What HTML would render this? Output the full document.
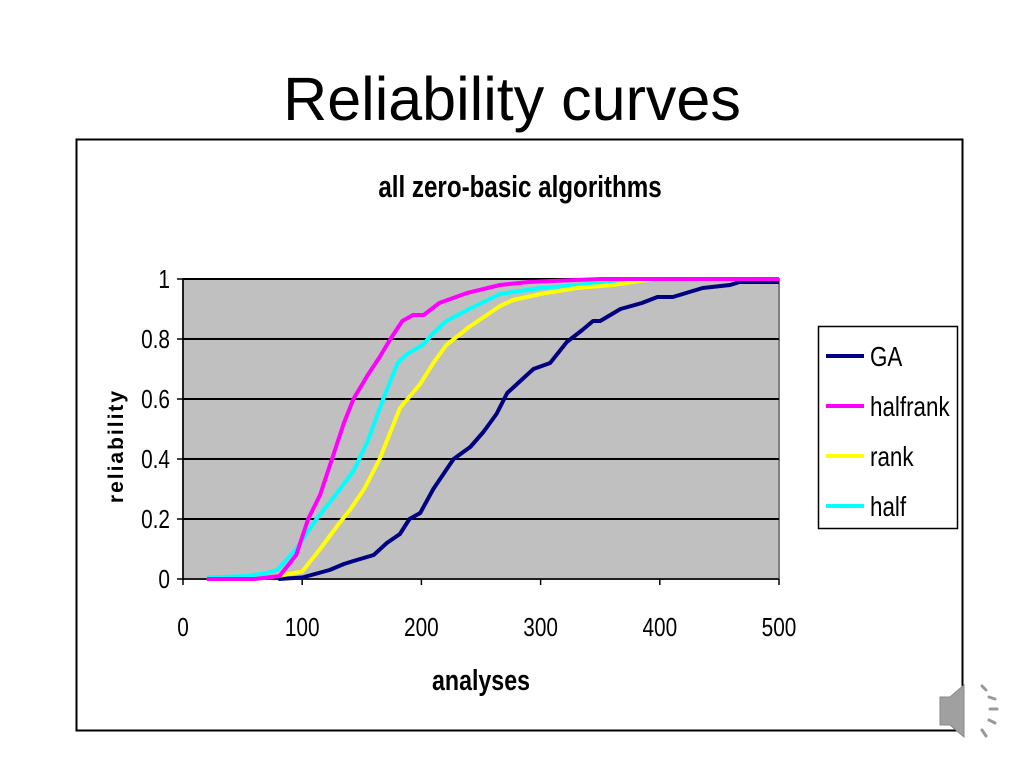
<!DOCTYPE html>
<html><head><meta charset="utf-8"><style>
body{margin:0;background:#fff;width:1024px;height:768px;overflow:hidden;font-family:"Liberation Sans",sans-serif}
</style></head><body>
<svg width="1024" height="768" xmlns="http://www.w3.org/2000/svg">
<text x="512" y="120" text-anchor="middle" font-size="61" font-family="Liberation Sans, sans-serif">Reliability curves</text>
<rect x="76.5" y="139.5" width="886" height="591" fill="#fff" stroke="#000" stroke-width="2"/>
<text transform="translate(520,197) scale(0.78,1)" text-anchor="middle" font-size="31" font-weight="bold">all zero-basic algorithms</text>
<rect x="183" y="279" width="596" height="300" fill="#c0c0c0" stroke="#808080" stroke-width="2"/>
<g id="grid"></g><g id="axes"></g><g id="series"></g>
<text transform="translate(123,446) rotate(-90)" text-anchor="middle" font-size="21" font-weight="bold" letter-spacing="2">reliability</text>
<text transform="translate(481,690) scale(0.8,1)" text-anchor="middle" font-size="29" font-weight="bold">analyses</text>
<g>
<rect x="818.5" y="326.5" width="139" height="202" fill="#fff" stroke="#000" stroke-width="1.5"/>
<g id="legend-entries"></g>
</g>
<g>
<path d="M940 697 h10 l14 -12 v52 l-14 -12 h-10 z" fill="#a0a0a0" stroke="#888"/>
<g stroke="#999" stroke-width="3" stroke-linecap="round">
<line x1="982" y1="686" x2="986" y2="690"/><line x1="989" y1="697" x2="995" y2="699"/><line x1="990" y1="709" x2="997" y2="709"/><line x1="989" y1="720" x2="995" y2="723"/><line x1="982" y1="730" x2="986" y2="736"/>
</g></g>
</svg>
<script>
const xTicks=[0,100,200,300,400,500];
const yTicks=[0,0.2,0.4,0.6,0.8,1];
const yTickLabels=["0","0.2","0.4","0.6","0.8","1"];
const seriesNames=["GA","halfrank","rank","half"];
const seriesColors=["#000080","#ff00ff","#ffff00","#00ffff"];
const gaX=[80,100,123,135,143,160,171,182,190,199,210,227,241,252,263,272,283,294,308,322,335,344,350,367,385,398,411,436,459,467,500];
const gaY=[0,0.005,0.03,0.05,0.06,0.08,0.12,0.15,0.2,0.22,0.3,0.4,0.44,0.49,0.55,0.62,0.66,0.7,0.72,0.79,0.83,0.86,0.86,0.9,0.92,0.94,0.94,0.97,0.98,0.99,0.99];
const hfX=[20,60,81,95,105,115,125,135,143,155,165,174,184,193,202,215,238,266,290,320,350,500];
const hfY=[0,0,0.01,0.08,0.2,0.28,0.4,0.52,0.6,0.68,0.74,0.8,0.86,0.88,0.88,0.92,0.953,0.98,0.99,0.995,1,1];
const rkX=[20,60,80,100,115,130,140,152,165,175,182,199,210,221,240,266,277,300,330,361,395,500];
const rkY=[0,0,0.01,0.025,0.1,0.18,0.23,0.3,0.4,0.5,0.57,0.65,0.72,0.78,0.84,0.91,0.93,0.95,0.97,0.98,1,1];
const hX=[20,55,70,79,95,112,128,143,155,168,180,188,201,210,221,240,266,300,330,361,380,500];
const hY=[0.005,0.01,0.02,0.03,0.1,0.2,0.28,0.36,0.46,0.6,0.72,0.75,0.78,0.82,0.86,0.9,0.95,0.97,0.98,0.99,1,1];
const allX=[gaX,hfX,rkX,hX], allY=[gaY,hfY,rkY,hY];
const NS="http://www.w3.org/2000/svg";
const X0=183,X1=779,Y0=579,Y1=279;
const sx=v=>X0+(v-0)/(500-0)*(X1-X0);
const sy=v=>Y0-(v-0)/(1-0)*(Y0-Y1);
function mk(t,a,p){const e=document.createElementNS(NS,t);for(const k in a)e.setAttribute(k,a[k]);p.appendChild(e);return e;}
const grid=document.getElementById('grid'),axes=document.getElementById('axes'),ser=document.getElementById('series'),leg=document.getElementById('legend-entries');
yTicks.forEach((v,i)=>{
 if(v>0){const g=mk('line',{x1:X0,x2:X1,y1:sy(v),y2:sy(v),stroke:'#000','stroke-width':2},grid);
 
 }
 const tk=mk('line',{x1:X0-6,x2:X0,y1:sy(v),y2:sy(v),stroke:'#000','stroke-width':1.5},axes);
 
 
 const t=mk('text',{transform:`translate(${X0-13},${sy(v)+9}) scale(0.8,1)`,'text-anchor':'end','font-size':26},axes);
 t.textContent=yTickLabels[i];
 
 
});
xTicks.forEach(v=>{
 const tk=mk('line',{x1:sx(v),x2:sx(v),y1:Y0,y2:Y0+6,stroke:'#000','stroke-width':1.5},axes);
 
 
 const t=mk('text',{transform:`translate(${sx(v)},${Y0+57}) scale(0.8,1)`,'text-anchor':'middle','font-size':26},axes);
 t.textContent=String(v);
 
 
});
const ax=mk('line',{x1:X0,x2:X0,y1:Y1,y2:Y0,stroke:'#000','stroke-width':1.5},axes);


const bx=mk('line',{x1:X0,x2:X1,y1:Y0,y2:Y0,stroke:'#000','stroke-width':1.5},axes);


[3,0,2,1].forEach(i=>{
 const pts=allX[i].map((x,j)=>sx(x)+','+sy(allY[i][j])).join(' ');
 const p=mk('polyline',{points:pts,fill:'none',stroke:seriesColors[i],'stroke-width':4,'stroke-linejoin':'round'},ser);
 
 
});
seriesNames.forEach((n,i)=>{
 const y=356+i*50;
 const l=mk('line',{x1:826,x2:864,y1:y,y2:y,stroke:seriesColors[i],'stroke-width':4},leg);
 
 
 const t=mk('text',{transform:`translate(870,${y+10}) scale(0.8,1)`,'font-size':28},leg);
 t.textContent=n;
 
 
});
</script>
</body></html>
